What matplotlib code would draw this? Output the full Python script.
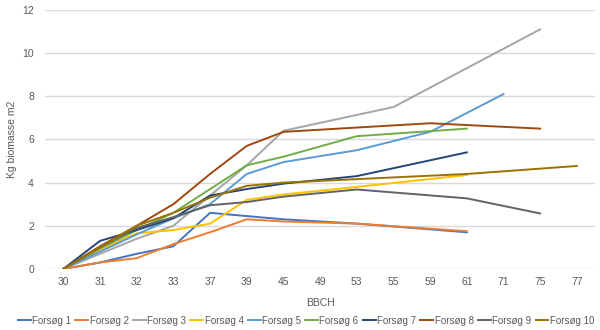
import numpy as np
import matplotlib
matplotlib.use("Agg")
import matplotlib.pyplot as plt

categories = ["30", "31", "32", "33", "37", "39", "45", "49", "53", "55", "59", "61", "71", "75", "77"]
N = None
forsog_1 = [0, 0.3, 0.7, 1.05, 2.6, 2.45, 2.3, N, 2.1, N, N, 1.7, N, N, N]
forsog_2 = [0, 0.3, 0.5, 1.15, 1.7, 2.3, 2.2, N, 2.1, N, N, 1.75, N, N, N]
forsog_3 = [0, 0.7, 1.4, 2.0, 3.4, 4.8, 6.4, N, N, 7.5, N, N, N, 11.1, N]
forsog_4 = [0, 0.9, 1.65, 1.8, 2.1, 3.2, 3.45, N, 3.8, N, N, 4.35, N, N, N]
forsog_5 = [0, 0.8, 1.6, 2.35, 3.0, 4.4, 4.95, N, 5.5, N, 6.35, N, 8.1, N, N]
forsog_6 = [0, 0.95, 1.8, 2.6, 3.7, 4.8, 5.2, N, 6.15, N, N, 6.5, N, N, N]
forsog_7 = [0, 1.3, 1.8, 2.35, 3.4, 3.7, 3.95, N, 4.3, N, N, 5.4, N, N, N]
forsog_8 = [0, 1.05, 2.0, 3.0, 4.4, 5.7, 6.35, N, N, N, 6.75, N, N, 6.5, N]
forsog_9 = [0, 1.0, 1.9, 2.4, 2.95, 3.1, 3.35, N, 3.68, N, N, 3.27, N, 2.57, N]
forsog_10 = [0, 1.0, 2.0, 2.6, 3.3, 3.85, 4.0, N, N, N, N, 4.4, N, N, 4.77]

series = [forsog_1, forsog_2, forsog_3, forsog_4, forsog_5,
          forsog_6, forsog_7, forsog_8, forsog_9, forsog_10]
labels = ["Forsøg 1", "Forsøg 2", "Forsøg 3", "Forsøg 4", "Forsøg 5",
          "Forsøg 6", "Forsøg 7", "Forsøg 8", "Forsøg 9", "Forsøg 10"]
colors = ["#4472C4", "#ED7D31", "#A5A5A5", "#FFC000", "#5B9BD5",
          "#70AD47", "#264478", "#9E480E", "#636363", "#997300"]

plt.rcParams['font.family'] = ['Liberation Sans', 'DejaVu Sans']

fig = plt.figure(figsize=(6, 3.3), dpi=100)
ax = fig.add_axes([0.075, 0.185, 0.917, 0.785])

x = np.arange(len(categories))
for vals, lab, col in zip(series, labels, colors):
    v = np.array([np.nan if a is None else a for a in vals], dtype=float)
    m = np.isfinite(v)
    ax.plot(x[m], v[m], color=col, lw=1.4, label=lab, solid_joinstyle='round')

ax.set_xlim(-0.5, len(categories) - 0.5)
ax.set_ylim(0, 12)
ax.set_yticks(range(0, 13, 2))
ax.set_xticks(x)
ax.set_xticklabels(categories)
ax.grid(axis='y', color='#D9D9D9', lw=1)
ax.set_axisbelow(True)
for s in ax.spines.values():
    s.set_visible(False)
ax.tick_params(axis='both', length=0, labelsize=7.5, colors='#595959', pad=6)
ax.tick_params(axis='y', pad=8)
ax.set_xlabel("BBCH", fontsize=7.5, color='#595959', labelpad=8)
ax.set_ylabel("Kg biomasse m2", fontsize=7.5, color='#595959', labelpad=4)

leg = fig.legend(loc='lower center', bbox_to_anchor=(0.51, -0.005), ncol=10,
                 frameon=False, fontsize=7, handlelength=1.3, handletextpad=0.15,
                 columnspacing=0.45, labelcolor='#595959', borderaxespad=0.2)

fig.savefig("out.png", dpi=100)
